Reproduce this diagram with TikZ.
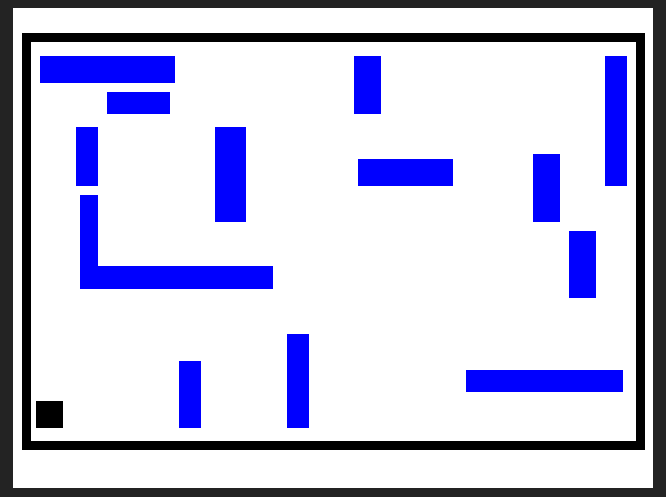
\documentclass[tikz,border=0pt]{standalone}
\definecolor{bgdark}{HTML}{232323}
\definecolor{wallblue}{HTML}{0000FF}
\begin{document}
\begin{tikzpicture}[x=1pt,y=-1pt,
  wall/.style={fill=wallblue},
  frame/.style={draw=black,line width=9pt}]
\useasboundingbox (0,0) rectangle (666,497);
\fill[bgdark] (0,0) rectangle (666,497);
\fill[white] (13,8) rectangle (653,488);
\draw[frame] (26.5,37.5) rectangle (640.5,445.5);
% walls
\fill[wall] (40,56) rectangle (175,83);
\fill[wall] (107,92) rectangle (170,114);
\fill[wall] (76,127) rectangle (98,186);
\fill[wall] (80,195) rectangle (98,289);
\fill[wall] (80,266) rectangle (273,289);
\fill[wall] (215,127) rectangle (246,222);
\fill[wall] (354,56) rectangle (381,114);
\fill[wall] (358,159) rectangle (453,186);
\fill[wall] (605,56) rectangle (627,186);
\fill[wall] (533,154) rectangle (560,222);
\fill[wall] (569,231) rectangle (596,298);
\fill[wall] (179,361) rectangle (201,428);
\fill[wall] (287,334) rectangle (309,428);
\fill[wall] (466,370) rectangle (623,392);
% agent
\fill[black] (36,401) rectangle (63,428);
\end{tikzpicture}
\end{document}
